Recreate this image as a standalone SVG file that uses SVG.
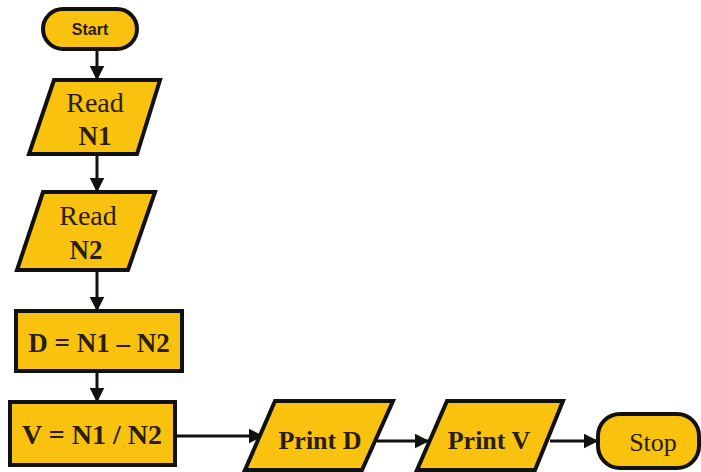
<svg xmlns="http://www.w3.org/2000/svg" width="701" height="472" viewBox="0 0 701 472">
  <style>
    .shape { fill: #F8C20E; stroke: #111; stroke-width: 4; stroke-linejoin: miter; }
    .lbl { font-family: "Liberation Serif", "Times New Roman", serif; fill: #2a1d05; text-anchor: middle; }
    .b { font-weight: bold; }
    .sans { font-family: "Liberation Sans", Arial, sans-serif; font-weight: bold; font-size: 16px; }
    .conn { stroke: #111; stroke-width: 3; fill: none; marker-end: url(#arr); }
  </style>
  <defs>
    <marker id="arr" viewBox="0 0 10 10" refX="9" refY="5" markerWidth="5" markerHeight="5" orient="auto" markerUnits="strokeWidth">
      <path d="M0,0 L10,5 L0,10 z" fill="#111"/>
    </marker>
  </defs>

  <g id="connectors">
    <line class="conn" x1="97" y1="49" x2="97" y2="79"/>
    <line class="conn" x1="97" y1="155" x2="97" y2="191"/>
    <line class="conn" x1="97" y1="272" x2="97" y2="310"/>
    <line class="conn" x1="97" y1="372" x2="97" y2="401"/>
    <line class="conn" x1="176" y1="436" x2="262" y2="436"/>
    <line class="conn" x1="377" y1="441" x2="428" y2="441"/>
    <line class="conn" x1="550" y1="441" x2="597" y2="441"/>
  </g>

  <g id="start">
    <rect class="shape" x="43" y="9" width="94" height="40" rx="20" ry="20"/>
    <text class="lbl sans" x="90" y="35">Start</text>
  </g>

  <g id="read-n1">
    <polygon class="shape" points="54,80 160,80 137,154 29,154"/>
    <text class="lbl" x="95" y="112" font-size="28">Read</text>
    <text class="lbl b" x="95" y="145" font-size="27">N1</text>
  </g>

  <g id="read-n2">
    <polygon class="shape" points="43,192 155,192 128,270 17,270"/>
    <text class="lbl" x="88" y="225" font-size="28">Read</text>
    <text class="lbl b" x="86" y="259" font-size="27">N2</text>
  </g>

  <g id="calc-d">
    <rect class="shape" x="16" y="311" width="166" height="60"/>
    <text class="lbl b" x="99" y="352" font-size="27">D = N1 – N2</text>
  </g>

  <g id="calc-v">
    <rect class="shape" x="10" y="402" width="165" height="63"/>
    <text class="lbl b" x="92" y="444" font-size="28">V = N1 / N2</text>
  </g>

  <g id="print-d">
    <polygon class="shape" points="275,401 393,401 362,470 245,470"/>
    <text class="lbl b" x="320" y="449" font-size="26">Print D</text>
  </g>

  <g id="print-v">
    <polygon class="shape" points="447,401 563,401 535,470 417,470"/>
    <text class="lbl b" x="489" y="449" font-size="26">Print V</text>
  </g>

  <g id="stop">
    <rect class="shape" x="598" y="414" width="101" height="54" rx="22" ry="22"/>
    <text class="lbl" x="653" y="451" font-size="26">Stop</text>
  </g>
</svg>
